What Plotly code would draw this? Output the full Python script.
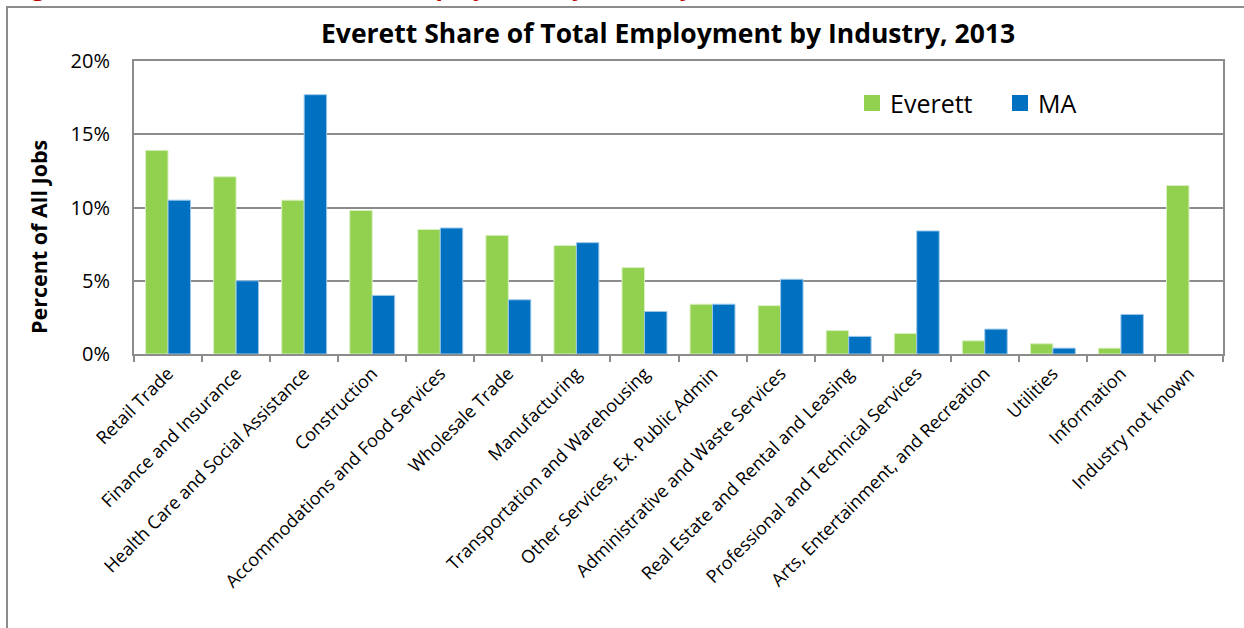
import plotly.graph_objects as go

# Industry categories (x axis order)
industries = [
    "Retail Trade",
    "Finance and Insurance",
    "Health Care and Social Assistance",
    "Construction",
    "Accommodations and Food Services",
    "Wholesale Trade",
    "Manufacturing",
    "Transportation and Warehousing",
    "Other Services, Ex. Public Admin",
    "Administrative and Waste Services",
    "Real Estate and Rental and Leasing",
    "Professional and Technical Services",
    "Arts, Entertainment, and Recreation",
    "Utilities",
    "Information",
    "Industry not known",
]

# Share of all jobs, percent
everett = [13.9, 12.1, 10.5, 9.8, 8.5, 8.1, 7.4, 5.9, 3.4, 3.3, 1.6, 1.4, 0.9, 0.7, 0.4, 11.5]
ma = [10.5, 5.0, 17.7, 4.0, 8.6, 3.7, 7.6, 2.9, 3.4, 5.1, 1.2, 8.4, 1.7, 0.4, 2.7, None]

y_ticks = [0, 5, 10, 15, 20]
y_tick_labels = ["0%", "5%", "10%", "15%", "20%"]

series_names = ["Everett", "MA"]
series_colors = ["#92D050", "#0070C0"]
series_edges = ["#d9f0c0", "#9cc8ea"]

FONT = "Open Sans"
GRID = "#8c8c8c"

# Plot area in pixels, used to place extra decorations in paper units
L, R, T, B = 134, 1223, 61, 354
W, H = R - L, B - T


def px_x(px):
    return (px - L) / W


def px_y(py):
    return (B - py) / H


fig = go.Figure()
for name, vals, col, edge in zip(series_names, [everett, ma], series_colors, series_edges):
    fig.add_trace(go.Bar(
        name=name, x=industries, y=vals, showlegend=False,
        marker=dict(color=col, line=dict(color=edge, width=1)),
    ))

fig.update_layout(
    width=1244, height=628,
    margin=dict(l=L, r=1244 - R, t=T, b=628 - B),
    paper_bgcolor="white", plot_bgcolor="white",
    barmode="group", bargap=0.34, bargroupgap=0,
    font=dict(family=FONT, color="black"),
    xaxis=dict(
        type="category", tickangle=-45, tickson="boundaries",
        ticks="outside", ticklen=6, tickcolor=GRID, tickwidth=1.5,
        showline=True, linecolor=GRID, linewidth=2, mirror=True,
        showgrid=False,
        tickfont=dict(family=FONT, size=18, color="black"),
    ),
    yaxis=dict(
        range=[0, 20], tickvals=y_ticks, ticktext=y_tick_labels,
        showgrid=True, gridcolor=GRID, gridwidth=2,
        showline=True, linecolor=GRID, linewidth=2, mirror=True,
        ticks="", zeroline=False,
        tickfont=dict(family=FONT, size=20, color="black"),
        ticklabelstandoff=18,
    ),
)

# Legend: coloured squares with series names, inside the plot area
legend_items = [(864, 888), (1012, 1036)]
for (sq_x, txt_x), name, col in zip(legend_items, series_names, series_colors):
    fig.add_shape(
        type="rect", xref="paper", yref="paper",
        x0=px_x(sq_x), x1=px_x(sq_x + 16), y0=px_y(111), y1=px_y(95),
        line=dict(width=0), fillcolor=col,
    )
    fig.add_annotation(
        text=name, xref="paper", yref="paper", x=px_x(txt_x), y=px_y(103),
        xanchor="left", yanchor="middle", showarrow=False,
        font=dict(family=FONT, size=25, color="black"),
    )

# Outer chart frame
fig.add_shape(
    type="rect", xref="paper", yref="paper",
    x0=px_x(7), x1=px_x(1260), y0=px_y(660), y1=px_y(7),
    line=dict(color="#8c8c8c", width=2), fillcolor="rgba(0,0,0,0)", layer="below",
)

# Chart title
fig.add_annotation(
    text="<b>Everett Share of Total Employment by Industry, 2013</b>",
    xref="paper", yref="paper", x=px_x(668), y=px_y(33),
    xanchor="center", yanchor="middle", showarrow=False,
    font=dict(family=FONT, size=26.5, color="black"),
)

# Report figure caption above the frame
fig.add_annotation(
    text="<b>Figure 12: Everett Share of Total Employment by Industry, 2013</b>",
    xref="paper", yref="paper", x=px_x(10), y=px_y(3),
    xanchor="left", yanchor="bottom", showarrow=False, borderpad=0,
    font=dict(family=FONT, size=24, color="#C00000"),
)

# Y axis title
fig.add_annotation(
    text="<b>Percent of All Jobs</b>",
    xref="paper", yref="paper", x=px_x(38), y=px_y(237),
    xanchor="center", yanchor="middle", showarrow=False, textangle=-90,
    font=dict(family=FONT, size=21.5, color="black"),
)

fig.write_html("out.html")
